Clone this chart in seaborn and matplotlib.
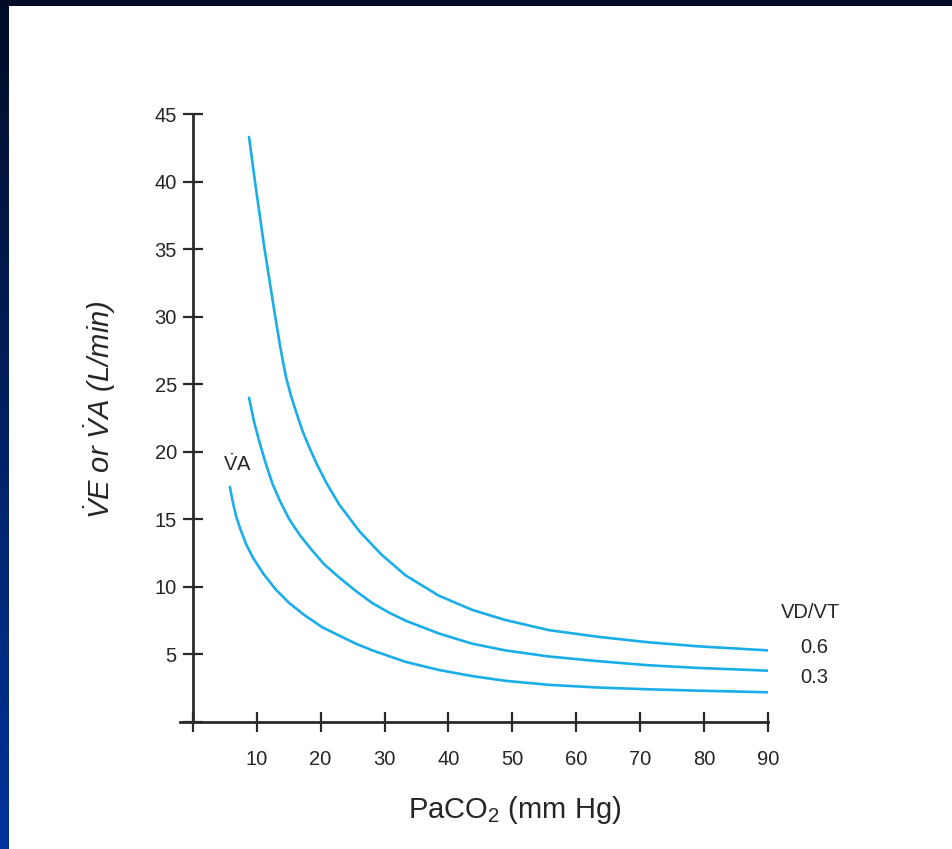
import numpy as np
import pandas as pd
import seaborn as sns
import matplotlib.pyplot as plt
from matplotlib.patches import Rectangle

# values
va_x = [5.8, 6.3, 6.8, 7.5, 8.4, 9.5, 11.0, 13.0, 15.1, 17.5, 20.3, 22.9, 25.5, 28.1, 33.3, 38.5, 43.7, 48.9, 55.7, 63.5, 71.3, 79.1, 90.0]
va_y = [17.4, 16.2, 15.2, 14.2, 13.1, 12.1, 11.0, 9.8, 8.8, 7.9, 7.0, 6.4, 5.8, 5.3, 4.45, 3.85, 3.4, 3.05, 2.75, 2.55, 2.42, 2.32, 2.2]

ve03_x = [8.8, 9.6, 10.5, 11.5, 12.5, 13.6, 15.1, 16.8, 18.5, 20.5, 22.9, 25.5, 28.1, 30.7, 33.3, 38.5, 43.7, 48.9, 55.7, 63.5, 71.3, 79.1, 90.0]
ve03_y = [24.0, 22.2, 20.6, 19.0, 17.6, 16.4, 15.0, 13.8, 12.8, 11.7, 10.7, 9.7, 8.8, 8.1, 7.5, 6.55, 5.8, 5.3, 4.85, 4.5, 4.2, 4.0, 3.8]

ve06_x = [8.8, 9.7, 10.45, 11.2, 12.0, 12.8, 13.6, 14.1, 14.6, 15.4, 16.2, 17.2, 18.25, 19.5, 20.9, 22.9, 26.1, 29.5, 33.3, 38.5, 43.7, 48.9, 55.7, 63.5, 71.3, 79.1, 90.0]
ve06_y = [43.3, 40.1, 37.6, 35.1, 32.7, 30.3, 28.0, 26.7, 25.5, 24.1, 22.9, 21.5, 20.3, 19.0, 17.7, 16.1, 14.1, 12.4, 10.85, 9.35, 8.3, 7.55, 6.8, 6.3, 5.9, 5.6, 5.3]

x_ticks = [0, 10, 20, 30, 40, 50, 60, 70, 80, 90]
x_labels = ["", "10", "20", "30", "40", "50", "60", "70", "80", "90"]
y_ticks = [0, 5, 10, 15, 20, 25, 30, 35, 40, 45]
y_labels = ["", "5", "10", "15", "20", "25", "30", "35", "40", "45"]

df = pd.concat([
    pd.DataFrame({"paco2": va_x, "vent": va_y, "curve": "VA"}),
    pd.DataFrame({"paco2": ve03_x, "vent": ve03_y, "curve": "0.3"}),
    pd.DataFrame({"paco2": ve06_x, "vent": ve06_y, "curve": "0.6"}),
])

sns.set_theme(style="white")
plt.rcParams["font.family"] = ["Liberation Sans", "DejaVu Sans"]
plt.rcParams["mathtext.fontset"] = "custom"
plt.rcParams["mathtext.rm"] = "Liberation Sans"
plt.rcParams["mathtext.it"] = "Liberation Sans:italic"

fig = plt.figure(figsize=(9.53, 8.49), dpi=100)

# navy gradient frame behind a white page
bg = fig.add_axes([0, 0, 1, 1], zorder=-10)
grad = np.linspace(0, 1, 256).reshape(-1, 1)
top_c = np.array([0.0, 0.05, 0.15])
bot_c = np.array([0.0, 0.2, 0.62])
img = top_c + grad[..., None] * (bot_c - top_c)
bg.imshow(img.reshape(256, 1, 3), aspect="auto", extent=[0, 1, 0, 1], origin="upper")
bg.set_axis_off()
fig.patches.append(Rectangle((9 / 953, 0), 1, 1 - 6 / 849, transform=fig.transFigure,
                             facecolor="white", edgecolor="none", zorder=-5))

ax = fig.add_axes([180 / 953, 127 / 849, 588 / 953, 608 / 849])
ax.patch.set_alpha(0)

line_c = "#1aaee8"
sns.lineplot(data=df, x="paco2", y="vent", hue="curve", palette=[line_c] * 3,
             estimator=None, sort=False, legend=False, linewidth=1.9, ax=ax)

ax.set_xlim(-2, 90)
ax.set_ylim(0, 45)
ax.spines["left"].set_position(("data", 0))
ax.spines["top"].set_visible(False)
ax.spines["right"].set_visible(False)
for s in ["left", "bottom"]:
    ax.spines[s].set_color("#2a2a2a")
    ax.spines[s].set_linewidth(2.0)

txt_c = "#262626"
ax.set_xticks(x_ticks)
ax.set_xticklabels(x_labels)
ax.set_yticks(y_ticks)
ax.set_yticklabels(y_labels)
ax.tick_params(axis="both", bottom=True, left=True, direction="inout", length=15, width=1.6,
               color="#2a2a2a", labelsize=14.5, labelcolor=txt_c)
ax.tick_params(axis="x", pad=13)
ax.tick_params(axis="y", pad=4)

ax.set_xlabel("PaCO$_2$ (mm Hg)", fontsize=21, color=txt_c)
ax.xaxis.label.set_va("center")
ax.xaxis.set_label_coords(0.57, -0.145)
ax.set_ylabel(r"$\dot{V}$E or $\dot{V}$A (L/min)", fontsize=21, color=txt_c, fontstyle="italic")
ax.yaxis.label.set_va("center")
ax.yaxis.set_label_coords(-0.136, 0.513)

ax.text(7.0, 19.1, r"$\dot{\mathrm{V}}$A", fontsize=14.5, ha="center", va="center", color=txt_c)
ax.text(96.7, 8.13, "VD/VT", fontsize=14.5, ha="center", va="center", color=txt_c, clip_on=False)
ax.text(97.3, 5.54, "0.6", fontsize=14.5, ha="center", va="center", color=txt_c, clip_on=False)
ax.text(97.3, 3.33, "0.3", fontsize=14.5, ha="center", va="center", color=txt_c, clip_on=False)

fig.savefig("out.png", dpi=100)
